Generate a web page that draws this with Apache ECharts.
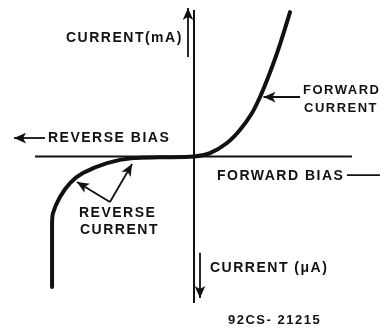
<!DOCTYPE html>
<html>
<head>
<meta charset="utf-8">
<title>Diode characteristic</title>
<script src="https://cdn.jsdelivr.net/npm/echarts@6.0.0/dist/echarts.min.js"></script>
<style>
html, body { margin: 0; padding: 0; background: #fff; }
#chart { width: 388px; height: 328px; }
</style>
</head>
<body>
<div id="chart"></div>
<script>
// bias (arbitrary units): reverse < 0 < forward
const biasValues = [-8.78, -8.78, -8.72, -8.29, -7.67, -6.87, -5.38, -3.77, -2.10, 0, 0.99, 2.04, 2.84, 3.59, 4.08, 4.52, 5.20, 5.94]
// current: mA above the axis, uA below
const currentValues = [-8.75, -4.59, -3.79, -2.72, -1.78, -1.11, -0.44, -0.10, -0.05, 0, 0.23, 0.91, 1.78, 2.92, 3.99, 5.13, 7.14, 9.69]

// axis extents
const biasAxis = [-9.83, 9.77]
const currentAxis = [9.83, -9.83]

// pointer arrows [from, to], head at "to"
const arrows = [
  [[-0.37, 6.67], [-0.37, 9.96]],   // current (mA)
  [[0.37, -6.45], [0.37, -9.49]],   // current (uA)
  [[-9.22, 1.24], [-11.13, 1.24]],  // reverse bias
  [[6.56, 3.99], [4.30, 3.99]],     // forward current
  [[-5.20, -3.05], [-7.24, -1.71]], // reverse current
  [[-5.20, -3.05], [-3.83, -0.50]]  // reverse current
]
// plain line after "FORWARD BIAS"
const forwardBiasLine = [[9.46, -1.24], [11.5, -1.24]]

const chart = echarts.init(document.getElementById('chart'))

const ink = '#111'
const font = (size) => 'bold ' + size + 'px "Liberation Sans", Arial, sans-serif'

function label(text, x, y, size) {
  return {
    type: 'text',
    x: x,
    y: y,
    silent: true,
    style: { text: text, font: font(size), fill: ink, align: 'left', verticalAlign: 'middle' }
  }
}

function segment(pts, width) {
  return {
    type: 'line',
    data: pts,
    symbol: 'none',
    silent: true,
    lineStyle: { color: ink, width: width }
  }
}

chart.setOption({
  animation: false,
  backgroundColor: '#fff',
  grid: { left: 0, right: 0, top: 0, bottom: 0 },
  xAxis: { type: 'value', min: -12, max: 12, show: false },
  yAxis: { type: 'value', min: -11.5, max: 10.5, show: false },
  series: [
    segment([[biasAxis[0], 0], [biasAxis[1], 0]], 2),
    segment([[0, currentAxis[0]], [0, currentAxis[1]]], 2),
    segment(forwardBiasLine, 1.8),
    {
      type: 'line',
      data: biasValues.map((b, i) => [b, currentValues[i]]),
      smooth: 0.3,
      symbol: 'none',
      silent: true,
      lineStyle: { color: ink, width: 4, cap: 'round' },
      markLine: {
        silent: true,
        symbol: ['none', 'arrow'],
        symbolSize: [8, 12],
        label: { show: false },
        lineStyle: { color: ink, width: 1.8, type: 'solid' },
        data: arrows.map((a) => [{ coord: a[0] }, { coord: a[1] }])
      }
    }
  ],
  graphic: [
    label('CURRENT(mA)', 66, 38, 14),
    label('REVERSE BIAS', 48, 138, 14),
    label('FORWARD BIAS', 217, 176, 14),
    label('FORWARD', 303, 90, 13),
    label('CURRENT', 304, 108, 13),
    label('REVERSE', 79, 213, 14),
    label('CURRENT', 80, 230, 14),
    label('CURRENT (μA)', 210, 268, 14),
    label('92CS- 21215', 228, 320, 13)
  ]
})

// tracked lettering like the original drawing, then repaint
document.querySelectorAll('#chart canvas').forEach((c) => {
  c.getContext('2d').letterSpacing = '1.5px'
})
chart.getZr().painter.refresh(true)
</script>
</body>
</html>
